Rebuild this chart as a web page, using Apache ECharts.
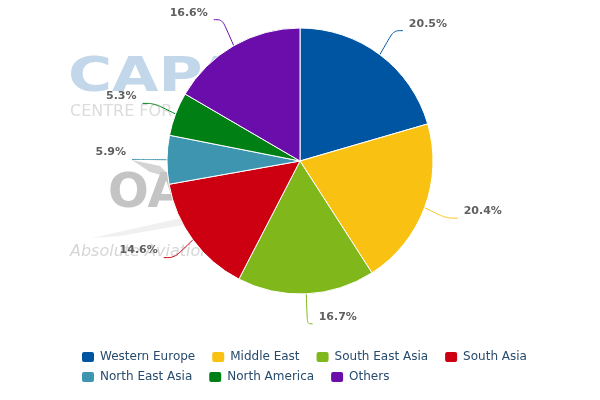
<!DOCTYPE html>
<html>
<head>
<meta charset="utf-8">
<script src="https://cdn.jsdelivr.net/npm/echarts@6/dist/echarts.min.js"></script>
<style>html,body{margin:0;padding:0;background:#fff}#c{width:600px;height:400px}</style>
</head>
<body>
<div id="c"></div>
<script>
const categories = ['Western Europe', 'Middle East', 'South East Asia', 'South Asia', 'North East Asia', 'North America', 'Others'];
const shares = [20.5, 20.4, 16.7, 14.6, 5.9, 5.3, 16.6];
const colors = ['#0055a2', '#f9c112', '#80b71b', '#cc0010', '#3e95b0', '#007f14', '#6a0dab'];

const CX = 300, CY = 161, R = 133, DIST = 30;
const total = shares.reduce((a, b) => a + b, 0);
const midAngles = [];
{
  let acc = 0;
  shares.forEach(v => { midAngles.push((acc + v / 2) / total * Math.PI * 2); acc += v; });
}

const chart = echarts.init(document.getElementById('c'));
chart.setOption({
  animation: false,
  color: colors,
  graphic: [
    { type: 'text', left: 68, top: 55, z: -1, scaleX: 1.25, style: { text: 'CAPA', font: 'bold 48px "DejaVu Sans"', fill: '#c3d7ea' } },
    { type: 'text', left: 70, top: 104, z: -1, style: { text: 'CENTRE FOR AVIATION', font: '16px "DejaVu Sans"', fill: '#dcdcdc' } },
    { type: 'polygon', z: -1, shape: { points: [[132, 160], [160, 166], [172, 178], [150, 172]] }, style: { fill: '#d4d4d4' } },
    { type: 'text', left: 108, top: 171, z: -1, style: { text: 'OA', font: 'bold 48px "DejaVu Sans"', fill: '#c4c4c4' } },
    { type: 'polygon', z: -1, shape: { points: [[92, 238], [190, 216], [200, 222], [120, 236]] }, style: { fill: '#f0f0f0' } },
    { type: 'text', left: 70, top: 244, z: -1, style: { text: 'Absolute Aviation Advisory', font: 'italic 16px "DejaVu Sans"', fill: '#d6d6d6' } }
  ],
  legend: [
    {
      left: 80, top: 350, padding: 0,
      itemWidth: 14, itemHeight: 12, itemGap: 15, icon: 'roundRect',
      textStyle: { fontFamily: 'DejaVu Sans', fontSize: 12, color: '#274b6d' },
      data: categories.slice(0, 4)
    },
    {
      left: 80, top: 370, padding: 0,
      itemWidth: 14, itemHeight: 12, itemGap: 15, icon: 'roundRect',
      textStyle: { fontFamily: 'DejaVu Sans', fontSize: 12, color: '#274b6d' },
      data: categories.slice(4)
    }
  ],
  series: [{
    type: 'pie',
    center: [CX, CY],
    radius: R,
    startAngle: 90,
    clockwise: true,
    itemStyle: { borderColor: '#fff', borderWidth: 1 },
    label: {
      show: true,
      formatter: p => p.value.toFixed(1) + '%',
      fontFamily: 'DejaVu Sans',
      fontSize: 11,
      fontWeight: 'bold',
      color: '#606060'
    },
    labelLine: { show: true, smooth: 0.35, lineStyle: { width: 1 } },
    labelLayout: params => {
      const a = midAngles[params.dataIndex];
      const sx = Math.sin(a), sy = -Math.cos(a);
      const right = sx >= 0;
      const ax = CX + sx * (R + DIST), ay = CY + sy * (R + DIST);
      const ex = CX + sx * R, ey = CY + sy * R;
      const bx = CX + sx * (R + 12);
      const endX = ax + (right ? 5 : -5);
      return {
        x: ax + (right ? 11 : -11),
        y: ay - 7,
        align: right ? 'left' : 'right',
        verticalAlign: 'middle',
        labelLinePoints: [[ex, ey], [bx + (ax - bx) * 0.6, ay], [endX, ay]]
      };
    },
    data: categories.map((c, i) => ({ name: c, value: shares[i] }))
  }]
});
</script>
</body>
</html>
